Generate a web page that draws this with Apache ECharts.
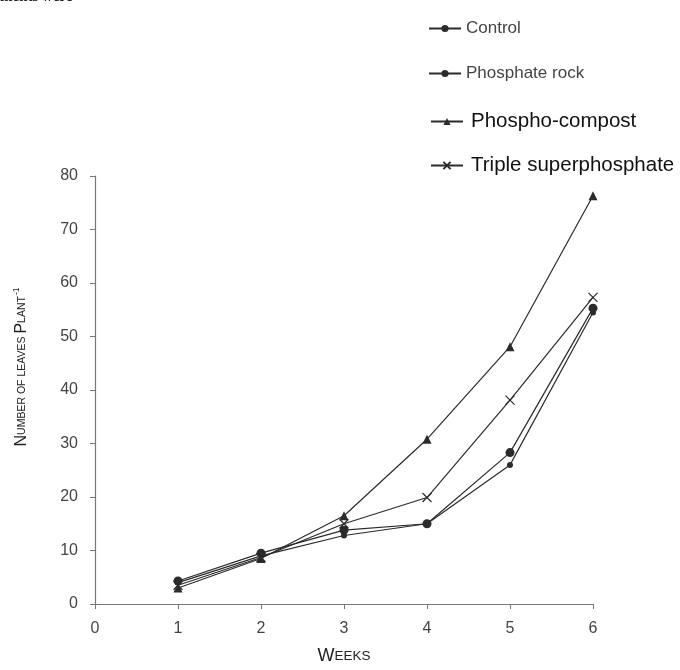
<!DOCTYPE html>
<html>
<head>
<meta charset="utf-8">
<script src="https://cdn.jsdelivr.net/npm/echarts@6/dist/echarts.min.js"></script>
<style>
  html, body { margin: 0; padding: 0; background: #fff; }
  #main { width: 680px; height: 670px; }
</style>
</head>
<body>
<div id="main"></div>
<script>
// values
var weeks = [1, 2, 3, 4, 5, 6];
var control = [4, 9, 12.8, 15, 26, 54.5];
var phosphateRock = [4.3, 9.5, 13.8, 15, 28.3, 55.3];
var phosphoCompost = [3, 8.5, 16.5, 30.8, 48.1, 76.3];
var tripleSuper = [3.5, 8.7, 15, 19.9, 38.1, 57.3];
var xTicks = [0, 1, 2, 3, 4, 5, 6];
var yTicks = [0, 10, 20, 30, 40, 50, 60, 70, 80];

var names = ['Control', 'Phosphate rock', 'Phospho-compost', 'Triple superphosphate'];

function pairs(vals) {
  return weeks.map(function (w, i) { return [w, vals[i]]; });
}

var lineCol = '#2b2b2b';
var cross = 'path://M0,0L10,10M10,0L0,10';
var sans = 'Liberation Sans, Arial, sans-serif';

function mkSeries(name, vals, symbol, size, extra) {
  var s = {
    name: name,
    type: 'line',
    data: pairs(vals),
    symbol: symbol,
    symbolSize: size,
    showSymbol: true,
    lineStyle: { color: lineCol, width: 1.2 },
    itemStyle: { color: lineCol },
    emphasis: { disabled: true },
    z: 3
  };
  if (extra) s.itemStyle = extra;
  return s;
}

var chartDom = document.getElementById('main');
var myChart = echarts.init(chartDom);

function legendAt(name, top, left, style) {
  return {
    data: [name],
    orient: 'vertical',
    left: left,
    top: top,
    itemWidth: 32,
    itemHeight: 9,
    itemGap: 4,
    selectedMode: false,
    textStyle: style
  };
}

var smallTxt = { fontFamily: sans, fontSize: 17, color: '#444' };
var bigTxt = { fontFamily: sans, fontSize: 20.5, color: '#111', padding: [0, 0, 0, 3] };

var option = {
  animation: false,
  backgroundColor: '#fff',
  grid: { left: 95, top: 176, width: 498, height: 430, containLabel: false },
  legend: [
    legendAt(names[0], 15, 423, smallTxt),
    legendAt(names[1], 60, 423, smallTxt),
    legendAt(names[2], 106, 425, bigTxt),
    legendAt(names[3], 150, 425, bigTxt)
  ],
  graphic: [{
    type: 'text', left: 0, top: -10,
    style: { text: 'ments were', fontFamily: 'Liberation Serif, serif', fontWeight: 'bold', fontSize: 15, fill: '#222' }
  }],
  xAxis: {
    type: 'value',
    min: xTicks[0],
    max: xTicks[xTicks.length - 1],
    interval: 1,
    name: '{b|W}{s|EEKS}',
    nameLocation: 'middle',
    nameGap: 43,
    nameTextStyle: {
      rich: {
        b: { fontFamily: sans, fontSize: 18, color: '#222' },
        s: { fontFamily: sans, fontSize: 13.5, color: '#222' }
      }
    },
    axisLine: { lineStyle: { color: '#777', width: 1.2 } },
    axisTick: { show: true, length: 5, lineStyle: { color: '#777' } },
    axisLabel: { fontFamily: sans, fontSize: 16, color: '#444', margin: 17 },
    splitLine: { show: false }
  },
  yAxis: {
    type: 'value',
    min: yTicks[0],
    max: yTicks[yTicks.length - 1],
    interval: 10,
    name: '{b|N}{s|UMBER OF LEAVES }{b|P}{s|LANT}{u|-1}',
    nameLocation: 'middle',
    nameGap: 63,
    nameRotate: 90,
    nameTextStyle: {
      padding: [0, 0, 0, 46],
      rich: {
        b: { fontFamily: sans, fontSize: 16, color: '#222' },
        s: { fontFamily: sans, fontSize: 10.5, color: '#222' },
        u: { fontFamily: sans, fontSize: 8.5, color: '#222', padding: [0, 0, 11, 1] }
      }
    },
    axisLine: { show: true, lineStyle: { color: '#777', width: 1.2 } },
    axisTick: { show: true, length: 5, lineStyle: { color: '#777' } },
    axisLabel: { fontFamily: sans, fontSize: 16, color: '#444', margin: 17 },
    splitLine: { show: false }
  },
  series: [
    mkSeries(names[0], control, 'circle', 6),
    mkSeries(names[1], phosphateRock, 'circle', 9),
    mkSeries(names[2], phosphoCompost, 'triangle', 9),
    mkSeries(names[3], tripleSuper, cross, 9, { color: 'none', borderColor: lineCol, borderWidth: 1.2 })
  ]
};

myChart.setOption(option);
</script>
</body>
</html>
